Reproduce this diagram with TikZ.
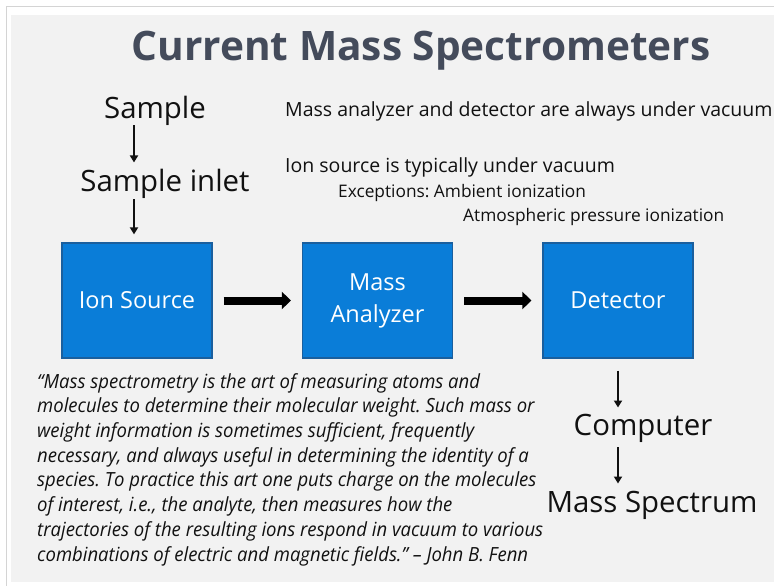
\documentclass[tikz,border=0pt]{standalone}
\usepackage{fontspec}
\setmainfont{Open Sans}
\newfontfamily\titlefont{Open Sans}[BoldFont={* Bold}]
\newfontfamily\quotefont{Open Sans}[FakeStretch=0.95]
\usetikzlibrary{arrows.meta}
\definecolor{slidebg}{HTML}{F2F2F2}
\definecolor{framegray}{HTML}{D4D4D4}
\definecolor{titlecol}{HTML}{444B5B}
\definecolor{boxfill}{HTML}{0A7DD8}
\definecolor{boxedge}{HTML}{1A5F9E}
\definecolor{txt}{HTML}{111111}
\frenchspacing
\begin{document}
\begin{tikzpicture}[x=1pt,y=-1pt,
  blockbox/.style={draw=boxedge,line width=1.2pt,fill=boxfill,minimum width=150pt,minimum height=115pt,
    text=white,font=\fontsize{23.5}{32}\selectfont,align=center,inner sep=0pt},
  bigarrow/.style={line width=8pt,-{Triangle[length=9pt,width=17pt]},black},
  smallarrow/.style={line width=2.4pt,-{Triangle[length=7pt,width=8pt]},txt},
  bigtext/.style={font=\fontsize{29.4}{34}\selectfont,text=txt,inner sep=0pt,anchor=base},
  midtext/.style={font=\fontsize{19.5}{23}\selectfont,text=txt,inner sep=0pt,anchor=base west},
  smalltext/.style={font=\fontsize{17.3}{20}\selectfont,text=txt,inner sep=0pt,anchor=base west}]
\useasboundingbox (0,0) rectangle (774,586);
\fill[white] (0,0) rectangle (774,586);
\fill[slidebg] (11,15) rectangle (774,582);
\draw[framegray,line width=1pt] (6,586) -- (6,7) -- (774,7);
% title
\node[inner sep=0pt,anchor=base,text=titlecol,font=\titlefont\bfseries\fontsize{40.6}{48}\selectfont] (title) at (421,60) {Current Mass Spectrometers};
% left chain
\coordinate (colA) at (134,0);
\coordinate (colB) at (618,0);
\node[bigtext] (sample) at (155,118) {Sample};
\node[bigtext] (inlet) at (165,191) {Sample inlet};
\node[blockbox] (ion) at (137,300.5) {Ion Source};
\node[blockbox] (ana) at (377.5,300.5) {Mass\\Analyzer};
\node[blockbox] (det) at (618,300.5) {Detector};
\draw[smallarrow,shorten >=6pt] (sample.south -| colA) -- (inlet.north -| colA);
\draw[smallarrow,shorten >=8pt,shorten <=1pt] (inlet.south -| colA) -- (ion.north -| colA);
\draw[bigarrow,shorten <=11pt,shorten >=11pt] (ion.east) -- (ana.west);
\draw[bigarrow,shorten <=11pt,shorten >=11pt] (ana.east) -- (det.west);
% right chain
\node[bigtext] (comp) at (643,435) {Computer};
\node[bigtext] (spec) at (652,512) {Mass Spectrum};
\draw[smallarrow,shorten <=12pt,shorten >=6pt] (det.south -| colB) -- (comp.north -| colB);
\draw[smallarrow,shorten <=5pt,shorten >=7pt] (comp.south -| colB) -- (spec.north -| colB);
% notes
\node[midtext] (n1) at (285,117) {Mass analyzer and detector are always under vacuum};
\node[midtext] (n2) at (285,172) {Ion source is typically under vacuum};
\node[smalltext] (n3) at (338,197) {Exceptions: Ambient ionization};
\node[smalltext] (n4) at (463,221) {Atmospheric pressure ionization};
% quote
\node[anchor=base west,inner sep=0pt,align=left,text=txt,
  font=\quotefont\itshape\fontsize{19.5}{24.7}\selectfont] (quote) at (37,561)
  {“Mass spectrometry is the art of measuring atoms and\\
  molecules to determine their molecular weight. Such mass or\\
  weight information is sometimes sufficient, frequently\\
  necessary, and always useful in determining the identity of a\\
  species. To practice this art one puts charge on the molecules\\
  of interest, i.e., the analyte, then measures how the\\
  trajectories of the resulting ions respond in vacuum to various\\
  combinations of electric and magnetic fields.” – John B. Fenn};
\end{tikzpicture}
\end{document}
